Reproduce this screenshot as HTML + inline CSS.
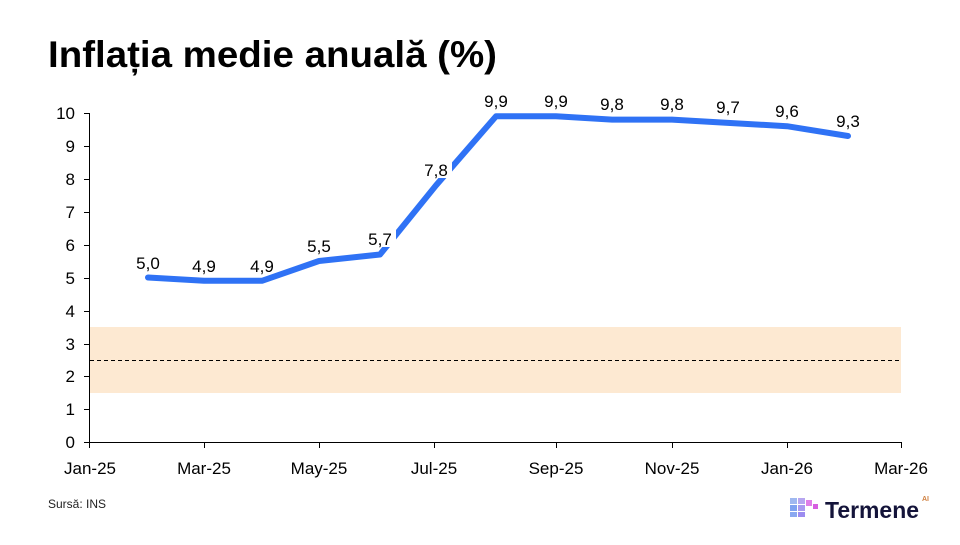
<!DOCTYPE html>
<html><head><meta charset="utf-8"><style>
body{margin:0;background:#fff;width:960px;height:540px;overflow:hidden;font-family:"Liberation Sans",sans-serif}
</style></head><body>
<svg width="960" height="540" xmlns="http://www.w3.org/2000/svg" font-family="Liberation Sans, sans-serif">
<text x="48" y="67" font-size="37" font-weight="bold" fill="#000" textLength="449" lengthAdjust="spacingAndGlyphs">Inflația medie anuală (%)</text>
<rect x="90" y="327" width="811" height="66" fill="#fde9d2"/>
<line x1="90" y1="360.5" x2="901" y2="360.5" stroke="#000" stroke-width="1" stroke-dasharray="4,3"/>
<g stroke="#000" stroke-width="1">
<line x1="89.5" y1="113" x2="89.5" y2="442"/>
<line x1="89" y1="442.5" x2="901" y2="442.5"/>
<line x1="84" y1="113.5" x2="90" y2="113.5"/><line x1="84" y1="146.5" x2="90" y2="146.5"/><line x1="84" y1="179.5" x2="90" y2="179.5"/><line x1="84" y1="212.5" x2="90" y2="212.5"/><line x1="84" y1="245.5" x2="90" y2="245.5"/><line x1="84" y1="278.5" x2="90" y2="278.5"/><line x1="84" y1="311.5" x2="90" y2="311.5"/><line x1="84" y1="344.5" x2="90" y2="344.5"/><line x1="84" y1="376.5" x2="90" y2="376.5"/><line x1="84" y1="409.5" x2="90" y2="409.5"/><line x1="84" y1="442.5" x2="90" y2="442.5"/>
<line x1="89.5" y1="442" x2="89.5" y2="448"/><line x1="204.5" y1="442" x2="204.5" y2="448"/><line x1="319.5" y1="442" x2="319.5" y2="448"/><line x1="434.5" y1="442" x2="434.5" y2="448"/><line x1="556.5" y1="442" x2="556.5" y2="448"/><line x1="672.5" y1="442" x2="672.5" y2="448"/><line x1="787.5" y1="442" x2="787.5" y2="448"/><line x1="901.5" y1="442" x2="901.5" y2="448"/>
</g>
<g font-size="17" fill="#000" text-anchor="end">
<text x="75" y="119">10</text><text x="75" y="152">9</text><text x="75" y="185">8</text><text x="75" y="218">7</text><text x="75" y="251">6</text><text x="75" y="284">5</text><text x="75" y="317">4</text><text x="75" y="350">3</text><text x="75" y="382">2</text><text x="75" y="415">1</text><text x="75" y="448">0</text>
</g>
<g font-size="17" fill="#000" text-anchor="middle">
<text x="90" y="474">Jan-25</text><text x="204" y="474">Mar-25</text><text x="319" y="474">May-25</text><text x="434" y="474">Jul-25</text><text x="556" y="474">Sep-25</text><text x="672" y="474">Nov-25</text><text x="787" y="474">Jan-26</text><text x="901" y="474">Mar-26</text>
</g>
<polyline fill="none" stroke="#2f72f5" stroke-width="6" stroke-linecap="round" stroke-linejoin="round"
points="148,277.5 204,280.8 262,280.8 319,261 380,254.5 436,185.4 496,116.3 556,116.3 612,119.6 672,119.6 728,122.9 787,126.2 848,136"/>
<g font-size="17" fill="#000" text-anchor="middle">
<text x="148" y="269">5,0</text><text x="204" y="272">4,9</text><text x="262" y="272">4,9</text><text x="319" y="252">5,5</text>
<rect x="364" y="229" width="32" height="18" fill="#fff"/><text x="380" y="245">5,7</text>
<rect x="420" y="160" width="32" height="18" fill="#fff"/><text x="436" y="176">7,8</text>
<text x="496" y="107">9,9</text><text x="556" y="107">9,9</text><text x="612" y="110">9,8</text><text x="672" y="110">9,8</text><text x="728" y="113">9,7</text><text x="787" y="117">9,6</text><text x="848" y="127">9,3</text>
</g>
<text x="48" y="508" font-size="12" fill="#222">Sursă: INS</text>
<g>
<rect x="790" y="498" width="7" height="6" fill="#9fb8f0"/><rect x="798" y="498" width="7" height="6" fill="#b7a6f0"/><rect x="806" y="500" width="6" height="6" fill="#e07ee8"/>
<rect x="790" y="505" width="7" height="6" fill="#7fa2f0"/><rect x="798" y="505" width="7" height="6" fill="#a99af0"/><rect x="813" y="504" width="5" height="5" fill="#d65fe0"/>
<rect x="790" y="512" width="7" height="5" fill="#8aa8f0"/><rect x="798" y="512" width="7" height="5" fill="#9c8cf0"/>
</g>
<text x="825" y="518" font-size="23" font-weight="bold" fill="#14143a" textLength="94" lengthAdjust="spacingAndGlyphs">Termene</text>
<text x="922" y="501" font-size="7" font-weight="bold" fill="#d08040">AI</text>
</svg>
</body></html>
